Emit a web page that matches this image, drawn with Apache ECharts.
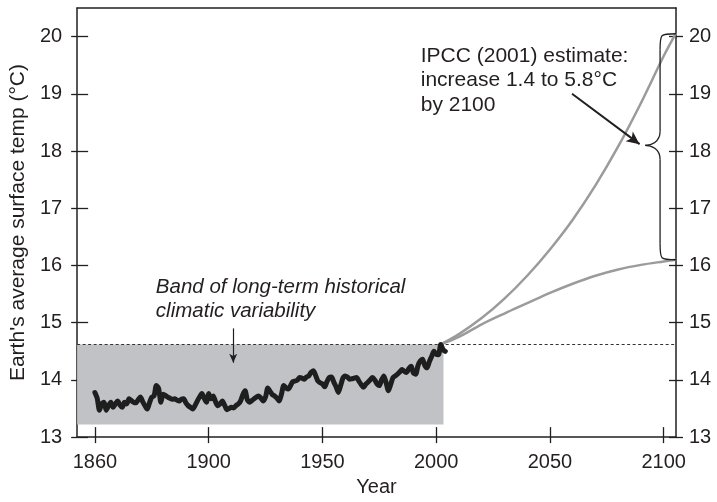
<!DOCTYPE html>
<html><head><meta charset="utf-8">
<script src="https://cdn.jsdelivr.net/npm/echarts@6/dist/echarts.min.js"></script>
<style>html,body{margin:0;padding:0;background:#fff}#c{width:717px;height:502px}</style>
</head><body><div id="c"></div>
<script>
// ---- data ----
const histStartYear = 1850;
const histTemps = [
  13.78,13.68,13.47,13.58,13.61,13.47,13.55,13.61,13.52,13.58,
  13.63,13.56,13.52,13.61,13.58,13.67,13.64,13.61,13.60,13.65,
  13.70,13.62,13.55,13.49,13.60,13.70,13.72,13.90,13.85,13.61,
  13.75,13.73,13.70,13.68,13.66,13.67,13.65,13.63,13.66,13.67,
  13.60,13.55,13.52,13.49,13.55,13.63,13.70,13.76,13.68,13.61,
  13.76,13.67,13.72,13.62,13.55,13.58,13.63,13.56,13.48,13.50,
  13.52,13.51,13.55,13.58,13.63,13.74,13.81,13.65,13.61,13.64,
  13.67,13.70,13.72,13.68,13.63,13.70,13.86,13.80,13.74,13.72,
  13.68,13.63,13.75,13.90,13.86,13.84,13.90,13.97,13.98,14.00,
  14.04,14.03,14.01,14.05,14.07,14.13,14.16,14.08,13.98,13.95,
  13.93,13.88,13.97,14.04,14.05,13.96,13.88,13.78,13.90,14.03,
  14.07,14.05,14.01,14.02,14.03,14.04,13.98,13.92,13.87,13.92,
  13.96,14.00,14.04,14.00,13.93,13.90,14.00,14.07,13.95,13.81,
  13.92,14.04,14.07,14.10,14.14,14.18,14.15,14.13,14.20,14.24,
  14.12,14.10,14.25,14.33,14.36,14.25,14.21,14.32,14.41,14.50,
  14.45,14.44,14.62,14.53,14.50
];
const projYears = [2002,2010,2020,2030,2040,2050,2060,2070,2080,2090,2100,2105.4];
const projHigh  = [14.62,14.80,15.08,15.42,15.82,16.28,16.80,17.40,18.08,18.84,19.66,20.06];
const projLow   = [14.62,14.75,14.97,15.16,15.34,15.52,15.68,15.82,15.93,16.01,16.07,16.10];
const bandLow = 13.22, bandHigh = 14.62, bandEndYear = 2003.2;
const xTickValues = [1850,1900,1950,2000,2050,2100];
const xTickLabels = ['1860','1900','1950','2000','2050','2100'];
const yTickValues = [13,14,15,16,17,18,19,20];
const yName = "Earth's average surface temp (°C)";
const xName = 'Year';
const bandText = 'Band of long-term historical\nclimatic variability';
const ipccText = 'IPCC (2001) estimate:\nincrease 1.4 to 5.8°C\nby 2100';

(function () {
const X_MIN = 1842.2, X_MAX = 2105.4, Y_MIN = 13, Y_MAX = 20.5;
const ink = '#231f20';
const FF = "'Liberation Sans', Arial, Helvetica, sans-serif";
const histYears = histTemps.map((_, i) => histStartYear + i);
const hist = histTemps.map((v, i) => [histYears[i], v]);
const high = projYears.map((y, i) => [y, projHigh[i]]);
const low = projYears.map((y, i) => [y, projLow[i]]);
const labelMap = {};
xTickValues.forEach((v, i) => labelMap[v] = xTickLabels[i]);

const chart = echarts.init(document.getElementById('c'), null, {renderer: 'canvas'});
const lineAx = {show: true, lineStyle: {color: ink, width: 1.5}};
const tickStyle = {color: ink, width: 1.3};
function xAx(extra) {
  return Object.assign({type: 'value', min: X_MIN, max: X_MAX, splitLine: {show: false},
    axisLine: {show: false}, axisTick: {show: false}, axisLabel: {show: false}}, extra);
}
function yAx(extra) {
  return Object.assign({type: 'value', min: Y_MIN, max: Y_MAX, splitLine: {show: false},
    axisLine: {show: false}, axisTick: {show: false}, axisLabel: {show: false}}, extra);
}
const labelText = {color: ink, fontSize: 20, fontFamily: FF};

chart.setOption({
  animation: false,
  grid: {left: 75, top: 8, width: 601, height: 434, containLabel: false},
  xAxis: [
    xAx({position: 'bottom', axisLine: lineAx,
      axisTick: {show: true, length: 6, customValues: xTickValues, lineStyle: tickStyle},
      axisLabel: Object.assign({show: true, margin: 15, customValues: xTickValues,
        formatter: v => labelMap[v] || ''}, labelText),
      name: xName, nameLocation: 'middle', nameGap: 37,
      nameTextStyle: {color: ink, fontSize: 20, fontFamily: FF}}),
    xAx({position: 'bottom',
      axisTick: {show: true, inside: true, length: 10, customValues: xTickValues, lineStyle: tickStyle}}),
    xAx({position: 'top', axisLine: lineAx})
  ],
  yAxis: [
    yAx({position: 'left', axisLine: lineAx,
      axisTick: {show: true, length: 6, customValues: yTickValues, lineStyle: tickStyle},
      axisLabel: Object.assign({show: true, margin: 15, customValues: yTickValues}, labelText),
      name: yName, nameLocation: 'middle', nameGap: 48,
      nameTextStyle: {color: ink, fontSize: 21, fontFamily: FF}}),
    yAx({position: 'left',
      axisTick: {show: true, inside: true, length: 11, customValues: yTickValues, lineStyle: tickStyle}}),
    yAx({position: 'right', axisLine: lineAx,
      axisTick: {show: true, length: 7, customValues: yTickValues, lineStyle: tickStyle},
      axisLabel: Object.assign({show: true, margin: 13, customValues: yTickValues}, labelText)}),
    yAx({position: 'right',
      axisTick: {show: true, inside: true, length: 7, customValues: yTickValues, lineStyle: tickStyle}})
  ],
  series: [
    {type: 'line', data: [], z: 1, silent: true,
      markArea: {silent: true, itemStyle: {color: '#c1c2c5'},
        data: [[{coord: [X_MIN, bandLow]}, {coord: [bandEndYear, bandHigh]}]]}},
    {type: 'line', name: 'high', data: high, symbol: 'none', smooth: 0.35, z: 3,
      lineStyle: {color: '#9b9b9b', width: 2.5}},
    {type: 'line', name: 'low', data: low, symbol: 'none', smooth: 0.35, z: 3,
      lineStyle: {color: '#9b9b9b', width: 2.5},
      markLine: {silent: true, symbol: ['none', 'none'], label: {show: false},
        data: [
          {yAxis: bandHigh, lineStyle: {type: [3, 2.5], width: 1, color: '#333'}},
          [{coord: [1910.8, 14.90], lineStyle: {type: 'solid', width: 1.2, color: ink}},
           {coord: [1910.8, 14.30], symbol: 'arrow', symbolSize: [6, 9], lineStyle: {type: 'solid', width: 1.2, color: ink}}],
          [{coord: [2059.7, 19.00], lineStyle: {type: 'solid', width: 2, color: ink}},
           {coord: [2089.4, 18.12], symbol: 'arrow', symbolSize: [9, 13], lineStyle: {type: 'solid', width: 2, color: ink}}]
        ]}},
    {type: 'line', name: 'historical', data: hist, symbol: 'none', smooth: 0.25, z: 5,
      lineStyle: {color: '#1e1e1e', width: 5, cap: 'round', join: 'round'}}
  ]
});

// brace and annotation text anchored to data coordinates
const P = (x, y) => chart.convertToPixel({xAxisIndex: 0, yAxisIndex: 0}, [x, y]);
const pTop = P(2105.4, 20.05), pBot = P(2105.4, 16.10), pMid = P(2091.8, 18.10), pV = P(2098.4, 18);
const xR = pTop[0], xV = pV[0], xT = pMid[0], yT = pTop[1], yB = pBot[1], yM = pMid[1];
const bs = {stroke: ink, fill: null, lineWidth: 1.3};
const bez = (x1, y1, c1x, c1y, c2x, c2y, x2, y2) => ({type: 'bezierCurve', z: 10, silent: true,
  shape: {x1, y1, cpx1: c1x, cpy1: c1y, cpx2: c2x, cpy2: c2y, x2, y2}, style: bs});
const seg = (x1, y1, x2, y2) => ({type: 'line', z: 10, silent: true, shape: {x1, y1, x2, y2}, style: bs});
const bandAnchor = P(1876.8, 15.83);
const ipccAnchor = P(1993.2, 19.88);
chart.setOption({
  graphic: [
    bez(xR, yT, xV, yT, xV, yT, xV, yT + 16),
    seg(xV, yT + 16, xV, yM - 14),
    bez(xV, yM - 14, xV, yM - 3, xT + 6, yM, xT, yM),
    bez(xT, yM, xT + 6, yM, xV, yM + 3, xV, yM + 14),
    seg(xV, yM + 14, xV, yB - 16),
    bez(xV, yB - 16, xV, yB, xV, yB, xR, yB),
    {type: 'text', x: bandAnchor[0], y: bandAnchor[1], z: 10, silent: true,
      style: {text: bandText, fill: ink, fontSize: 20.5, fontStyle: 'italic', fontFamily: FF,
        lineHeight: 24, textAlign: 'left', textVerticalAlign: 'top'}},
    {type: 'text', x: ipccAnchor[0], y: ipccAnchor[1], z: 10, silent: true,
      style: {text: ipccText, fill: ink, fontSize: 21, fontFamily: FF,
        lineHeight: 24.5, textAlign: 'left', textVerticalAlign: 'top'}}
  ]
});
})();
</script></body></html>
